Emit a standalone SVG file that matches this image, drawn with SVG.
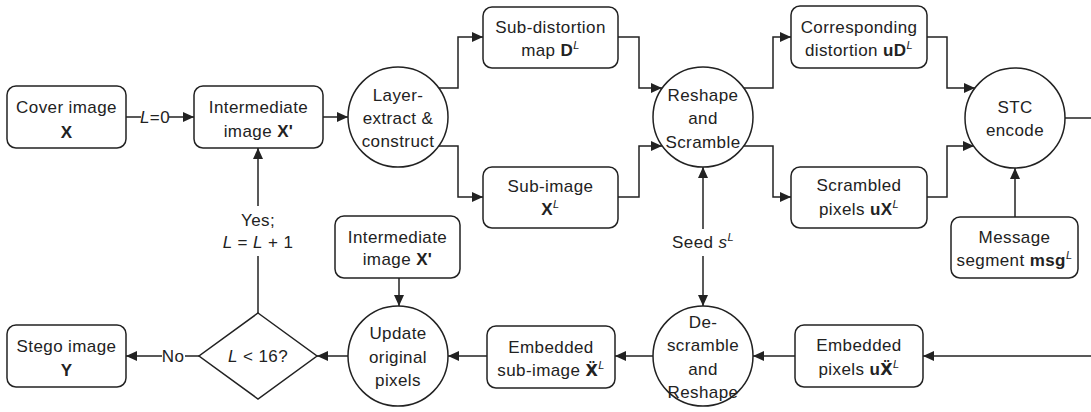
<svg xmlns="http://www.w3.org/2000/svg" width="1091" height="412" viewBox="0 0 1091 412">
  <style>
    .box { fill: #fff; stroke: #222; stroke-width: 1.5; }
    .wire { fill: none; stroke: #222; stroke-width: 1.5; }
    .arr { marker-end: url(#ah); }
    text { font-family: "Liberation Sans", "DejaVu Sans", Arial, sans-serif; font-size: 17px; fill: #222; text-anchor: middle; letter-spacing: 0.4px; }
    .b { font-weight: bold; }
    .i { font-style: italic; }
    .dx { font-family: "DejaVu Sans", sans-serif; font-size: 16px; font-weight: bold; }
    .sup { font-size: 11px; font-style: italic; }
  </style>
  <defs>
    <marker id="ah" markerUnits="userSpaceOnUse" markerWidth="12" markerHeight="10" refX="11" refY="5" orient="auto">
      <path d="M0,0 L11,5 L0,10 z" fill="#222"/>
    </marker>
  </defs>
  <rect width="1091" height="412" fill="#fff"/>

  <!-- connectors -->
  <g id="connectors">
    <path class="wire" d="M126,117 H141"/>
    <path class="wire arr" d="M169,117 H194"/>
    <path class="wire arr" d="M323,117 H348"/>
    <path class="wire arr" d="M439,88 H458 V37 H483"/>
    <path class="wire arr" d="M439,146 H458 V197 H483"/>
    <path class="wire arr" d="M618,37 H639 V88 H662"/>
    <path class="wire arr" d="M618,197 H639 V146 H662"/>
    <path class="wire arr" d="M744,88 H773 V37 H791"/>
    <path class="wire arr" d="M744,146 H773 V197 H791"/>
    <path class="wire arr" d="M927,37 H947 V88 H975"/>
    <path class="wire arr" d="M927,197 H947 V146 H974"/>
    <path class="wire arr" d="M1015,217 V168"/>
    <path class="wire" d="M1065,118 H1091"/>
    <path class="wire arr" d="M1091,356 H923"/>
    <path class="wire arr" d="M795,356 H753"/>
    <path class="wire arr" d="M653,356 H615"/>
    <path class="wire arr" d="M487,356 H448"/>
    <path class="wire arr" d="M348,356 H317"/>
    <path class="wire" d="M199,356 H185"/>
    <path class="wire arr" d="M162,356 H126"/>
    <path class="wire arr" d="M399,278 V306"/>
    <path class="wire" d="M258,313 V256"/>
    <path class="wire arr" d="M258,206 V148"/>
    <path class="wire arr" d="M703,229 V167"/>
    <path class="wire arr" d="M703,256 V306"/>
    <text x="155" y="123"><tspan class="i">L</tspan>=0</text>
    <text x="173" y="362">No</text>
    <text x="258" y="226">Yes;</text>
    <text x="258" y="248"><tspan class="i">L</tspan> = <tspan class="i">L</tspan> + 1</text>
    <text x="703" y="248">Seed <tspan class="i">s</tspan><tspan class="sup" dy="-7">L</tspan></text>
  </g>

  <g id="cover">
    <rect class="box" x="7" y="86" width="119" height="62" rx="9"/>
    <text x="66.5" y="113">Cover image</text>
    <text x="66.5" y="138" class="b">X</text>
  </g>

  <g id="intermediate-top">
    <rect class="box" x="194" y="86" width="129" height="62" rx="9"/>
    <text x="258.5" y="113">Intermediate</text>
    <text x="258.5" y="137">image <tspan class="b">X'</tspan></text>
  </g>

  <g id="layer-extract">
    <circle class="box" cx="398" cy="117" r="50"/>
    <text x="398" y="101">Layer-</text>
    <text x="398" y="124">extract &amp;</text>
    <text x="398" y="147">construct</text>
  </g>

  <g id="sub-distortion">
    <rect class="box" x="483" y="7" width="135" height="61" rx="9"/>
    <text x="550.5" y="33">Sub-distortion</text>
    <text x="550.5" y="56">map <tspan class="b">D</tspan><tspan class="sup" dy="-7">L</tspan></text>
  </g>

  <g id="sub-image">
    <rect class="box" x="483" y="167" width="135" height="61" rx="9"/>
    <text x="550.5" y="192">Sub-image</text>
    <text x="550.5" y="215"><tspan class="b">X</tspan><tspan class="sup" dy="-7">L</tspan></text>
  </g>

  <g id="reshape-scramble">
    <circle class="box" cx="703" cy="117" r="50"/>
    <text x="703" y="101">Reshape</text>
    <text x="703" y="124">and</text>
    <text x="703" y="148">Scramble</text>
  </g>

  <g id="corresponding">
    <rect class="box" x="791" y="6" width="136" height="62" rx="9"/>
    <text x="859" y="33">Corresponding</text>
    <text x="859" y="56">distortion <tspan class="b">uD</tspan><tspan class="sup" dy="-7">L</tspan></text>
  </g>

  <g id="scrambled">
    <rect class="box" x="791" y="167" width="136" height="61" rx="9"/>
    <text x="859" y="191">Scrambled</text>
    <text x="859" y="215">pixels <tspan class="b">uX</tspan><tspan class="sup" dy="-7">L</tspan></text>
  </g>

  <g id="stc-encode">
    <circle class="box" cx="1015" cy="118" r="50"/>
    <text x="1015" y="113">STC</text>
    <text x="1015" y="136">encode</text>
  </g>

  <g id="message">
    <rect class="box" x="951" y="217" width="127" height="61" rx="9"/>
    <text x="1014.5" y="243">Message</text>
    <text x="1014.5" y="266">segment <tspan class="b">msg</tspan><tspan class="sup" dy="-7">L</tspan></text>
  </g>

  <g id="embedded-pixels">
    <rect class="box" x="795" y="325" width="128" height="62" rx="9"/>
    <text x="859" y="351">Embedded</text>
    <text x="859" y="375">pixels <tspan class="b">u</tspan><tspan class="dx">Ẍ</tspan><tspan class="sup" dy="-7">L</tspan></text>
  </g>

  <g id="descramble-reshape">
    <circle class="box" cx="703" cy="356" r="50"/>
    <text x="703" y="328">De-</text>
    <text x="703" y="351">scramble</text>
    <text x="703" y="375">and</text>
    <text x="703" y="398">Reshape</text>
  </g>

  <g id="embedded-sub-image">
    <rect class="box" x="487" y="326" width="128" height="62" rx="9"/>
    <text x="551" y="353">Embedded</text>
    <text x="551" y="376">sub-image <tspan class="dx">Ẍ</tspan><tspan class="sup" dy="-7">L</tspan></text>
  </g>

  <g id="update-pixels">
    <circle class="box" cx="398" cy="356" r="50"/>
    <text x="398" y="339">Update</text>
    <text x="398" y="363">original</text>
    <text x="398" y="386">pixels</text>
  </g>

  <g id="intermediate-bottom">
    <rect class="box" x="335" y="216" width="125" height="62" rx="9"/>
    <text x="397.5" y="243">Intermediate</text>
    <text x="397.5" y="265">image <tspan class="b">X'</tspan></text>
  </g>

  <g id="layer-check">
    <polygon class="box" points="258,313 317,356 258,399 199,356"/>
    <text x="258" y="362"><tspan class="i">L</tspan> &lt; 16?</text>
  </g>

  <g id="stego">
    <rect class="box" x="7" y="325" width="119" height="62" rx="9"/>
    <text x="66.5" y="352">Stego image</text>
    <text x="66.5" y="376" class="b">Y</text>
  </g>
</svg>
